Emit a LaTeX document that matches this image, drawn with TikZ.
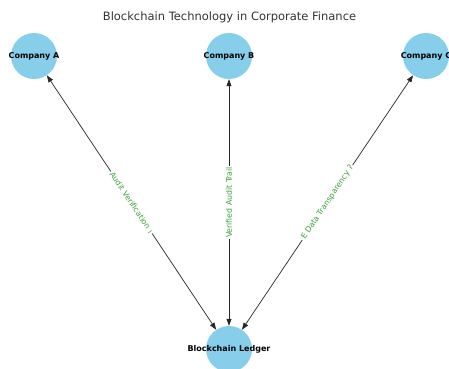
\documentclass[tikz,border=0pt]{standalone}
\usepackage{fontspec}
\setmainfont{DejaVu Sans}
\usetikzlibrary{arrows.meta}
\definecolor{nodeblue}{HTML}{87CEEB}
\definecolor{edgegreen}{RGB}{60,160,60}
\definecolor{titlegray}{HTML}{333333}
\tikzset{
  party/.style={circle, fill=nodeblue, draw=none, minimum size=46pt, inner sep=0pt,
    font=\fontsize{8}{9}\selectfont\bfseries},
  link/.style={draw=black!85, line width=0.7pt,
    {Triangle[length=7pt,width=5pt]}-{Triangle[length=7pt,width=5pt]}},
  linklabel/.style={fill=white, inner sep=1.5pt, text=edgegreen,
    font=\fontsize{7.8}{9}\selectfont, sloped}
}
\begin{document}
\begin{tikzpicture}[x=1pt,y=-1pt]
\useasboundingbox (0,0) rectangle (449,368);
\clip (0,0) rectangle (449,368);
\node[text=titlegray, font=\fontsize{11.5}{13}\selectfont] (title) at (229.5,17) {Blockchain Technology in Corporate Finance};

\node[party] (A) at (34,56) {\makebox[0pt]{Company A}};
\node[party] (B) at (229,56) {\makebox[0pt]{Company B}};
\node[party] (C) at (426,56) {\makebox[0pt]{Company C}};
\node[party] (L) at (229,349) {\makebox[0pt]{Blockchain Ledger}};

\draw[link] (L) -- node[linklabel] (la) {Audit Verification ı} (A);
\draw[link] (L) -- node[linklabel] (lb) {Verified Audit Trail} (B);
\draw[link] (L) -- node[linklabel] (lc) {E Data Transparency ʔ} (C);
\end{tikzpicture}
\end{document}
